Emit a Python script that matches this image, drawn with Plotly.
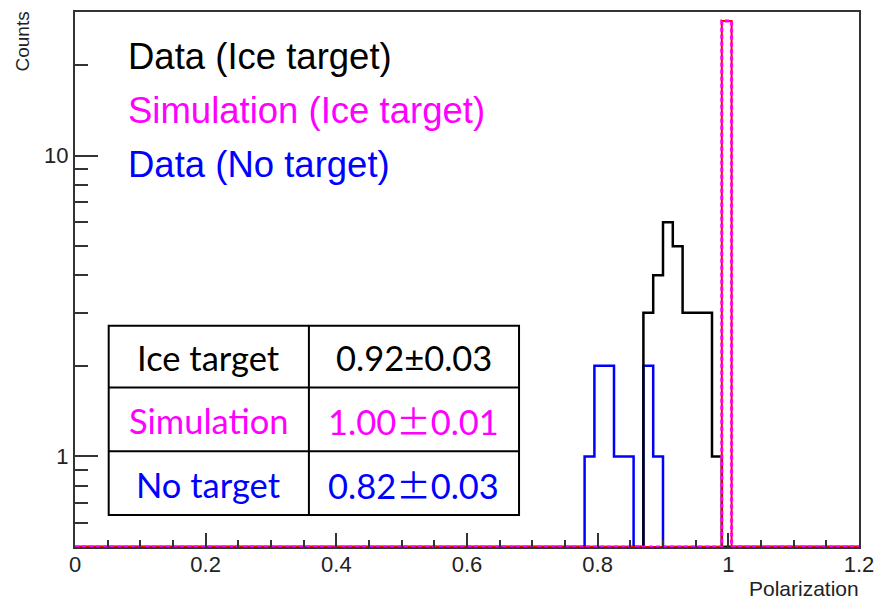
import numpy as np
import plotly.graph_objects as go

# ---- Data (histogram contents) ----
n_bins = 80
x_min, x_max = 0.0, 1.2

ice_bin_lo = [0.870, 0.885, 0.900, 0.915, 0.930, 0.945, 0.960, 0.975]
ice_counts = [3, 4, 6, 5, 3, 3, 3, 1]

sim_bin_lo = [0.990]
sim_counts = [28]

notarget_bin_lo = [0.780, 0.795, 0.810, 0.825, 0.840, 0.855, 0.870, 0.885]
notarget_counts = [1, 2, 2, 1, 1, 0, 2, 1]

legend_labels = ["Data (Ice target)", "Simulation (Ice target)", "Data (No target)"]
table_names = ["Ice target", "Simulation", "No target"]
table_values = ["0.92±0.03", "1.00<span style='font-family:Noto Sans CJK JP'>±</span>0.01",
                "0.82<span style='font-family:Noto Sans CJK JP'>±</span>0.03"]

x_tickvals = [0, 0.2, 0.4, 0.6, 0.8, 1.0, 1.2]
x_ticktext = ["0", "0.2", "0.4", "0.6", "0.8", "1", "1.2"]
y_tickvals = [1, 10]
y_ticktext = ["1", "10"]
y_minor = [0.6, 0.7, 0.8, 0.9, 2, 3, 4, 5, 6, 7, 8, 9, 20]

# ---- histogram building ----
width = (x_max - x_min) / n_bins
edges = np.linspace(x_min, x_max, n_bins + 1)
Y_FLOOR = 0.5


def full_hist(lo, counts):
    h = np.zeros(n_bins)
    for x, c in zip(lo, counts):
        i = int(round((x - x_min) / width))
        h[i] = c
    return h


def step_xy(h):
    y = np.where(h > 0, h, Y_FLOOR)
    y = np.append(y, y[-1])
    return edges, y


BLACK = "#000000"
MAGENTA = "#ff00ff"
BLUE = "#0000ff"
RED = "#ff0000"

fig = go.Figure()
bx, by = step_xy(full_hist(notarget_bin_lo, notarget_counts))
fig.add_trace(go.Scatter(x=bx, y=by, mode="lines", line=dict(color=BLUE, width=2.5, shape="hv"),
                         showlegend=False, hoverinfo="skip"))
hx, hy = step_xy(full_hist(ice_bin_lo, ice_counts))
fig.add_trace(go.Scatter(x=hx, y=hy, mode="lines", line=dict(color=BLACK, width=2.5, shape="hv"),
                         showlegend=False, hoverinfo="skip"))
sx, sy = step_xy(full_hist(sim_bin_lo, sim_counts))
fig.add_trace(go.Scatter(x=sx, y=sy, mode="lines", line=dict(color=RED, width=2, shape="hv"),
                         showlegend=False, hoverinfo="skip"))
fig.add_trace(go.Scatter(x=sx, y=sy, mode="lines", line=dict(color=MAGENTA, width=3, shape="hv", dash="4px,3px"),
                         showlegend=False, hoverinfo="skip"))

# ---- layout geometry (pixels) ----
W, H = 884, 602
L, R, T, B = 75, 866, 10, 547


def px(xp):
    return (xp - L) / (R - L)


def py(yp):
    return (B - yp) / (B - T)


FONT = "Liberation Sans, Arial, sans-serif"
TFONT = "Lato, Open Sans, sans-serif"

annotations = []
# legend text
legend_colors = [BLACK, MAGENTA, BLUE]
legend_y = [55, 109, 163]
for lab, col, yy in zip(legend_labels, legend_colors, legend_y):
    annotations.append(dict(x=px(126), y=py(yy), xref="paper", yref="paper", text=lab, showarrow=False,
                            xanchor="left", yanchor="middle", font=dict(family=FONT, size=36.5, color=col)))

# table
tl, tm, tr = 109, 311, 523
rows = [325, 387, 451, 515]
shapes = []
shapes.append(dict(type="rect", xref="paper", yref="paper", x0=px(tl), x1=px(tr), y0=py(rows[0]), y1=py(rows[-1]),
                   line=dict(color="black", width=2), fillcolor="white", layer="above"))
shapes.append(dict(type="line", xref="paper", yref="paper", x0=px(tm), x1=px(tm), y0=py(rows[0]), y1=py(rows[-1]),
                   line=dict(color="black", width=2), layer="above"))
for r in rows[1:-1]:
    shapes.append(dict(type="line", xref="paper", yref="paper", x0=px(tl), x1=px(tr), y0=py(r), y1=py(r),
                       line=dict(color="black", width=2), layer="above"))
for i, (nm, val, col) in enumerate(zip(table_names, table_values, legend_colors)):
    yc = (rows[i] + rows[i + 1]) / 2 + 1
    annotations.append(dict(x=px((tl + tm) / 2), y=py(yc), xref="paper", yref="paper", text=nm, showarrow=False,
                            xanchor="center", yanchor="middle", font=dict(family=TFONT, size=34.5, color=col)))
    annotations.append(dict(x=px((tm + tr) / 2), y=py(yc), xref="paper", yref="paper", text=val, showarrow=False,
                            xanchor="center", yanchor="middle", font=dict(family=TFONT, size=34.5, color=col)))

# axis titles
annotations.append(dict(x=px(868), y=py(602), xref="paper", yref="paper", text="Polarization", showarrow=False,
                        xanchor="right", yanchor="bottom", font=dict(family=FONT, size=21, color="#222")))
annotations.append(dict(x=px(22), y=py(7), xref="paper", yref="paper", text="Counts", showarrow=False,
                        textangle=-90, xanchor="center", yanchor="top", font=dict(family=FONT, size=19, color="#222")))

fig.update_layout(
    width=W, height=H,
    margin=dict(l=L, r=W - R, t=T, b=H - B),
    paper_bgcolor="white", plot_bgcolor="white",
    shapes=shapes, annotations=annotations,
    xaxis=dict(range=[x_min, x_max], tickmode="array", tickvals=x_tickvals, ticktext=x_ticktext,
               ticks="inside", ticklen=14, tickwidth=1.5, tickcolor="#333", ticklabelstandoff=-3,
               minor=dict(dtick=0.05, tick0=0, ticks="inside", ticklen=7, tickwidth=1.5, tickcolor="#333"),
               showgrid=False, zeroline=False, showline=True, mirror=True, linecolor="#333", linewidth=2,
               tickfont=dict(family=FONT, size=22, color="#222")),
    yaxis=dict(type="log", range=[np.log10(0.5), np.log10(30)], tickmode="array", tickvals=y_tickvals,
               ticktext=y_ticktext, ticks="inside", ticklen=23, tickwidth=1.5, tickcolor="#333",
               minor=dict(tickmode="array", tickvals=y_minor, ticks="inside", ticklen=13, tickwidth=1.5,
                          tickcolor="#333"),
               showgrid=False, zeroline=False, showline=True, mirror=True, linecolor="#333", linewidth=2,
               tickfont=dict(family=FONT, size=22, color="#222")),
)

fig.write_html("out.html")
